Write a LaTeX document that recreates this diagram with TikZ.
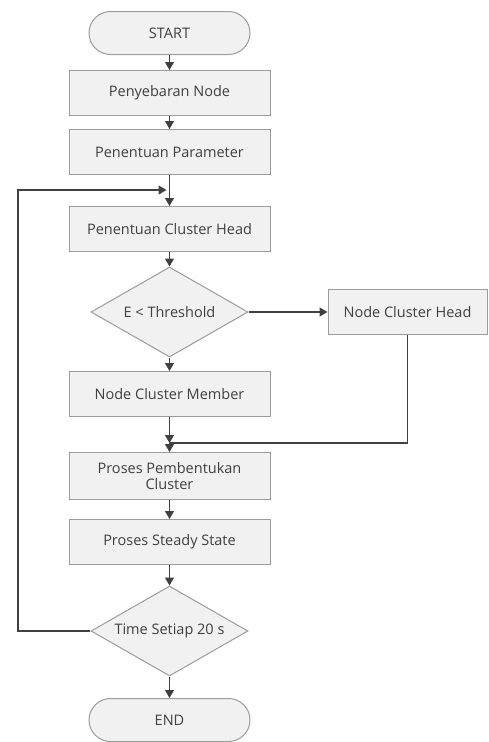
\documentclass[tikz,border=0pt]{standalone}
\usepackage{fontspec}
\setmainfont{Open Sans}
\usetikzlibrary{shapes.geometric,shapes.misc,arrows.meta}

\definecolor{boxline}{HTML}{9C9C9C}
\definecolor{boxfill}{HTML}{F1F1F1}
\definecolor{ink}{HTML}{404040}

\tikzset{
  base/.style={draw=boxline, line width=1pt, fill=boxfill, text=ink,
    font=\fontsize{14.5}{16}\selectfont, align=center, inner sep=0pt},
  proc/.style={base, rectangle, minimum width=201pt, minimum height=45pt},
  term/.style={base, rounded rectangle, minimum width=161pt, minimum height=43pt},
  decide/.style={base, diamond, aspect=1.74, minimum width=157pt, minimum height=90pt},
  arr/.style={draw=ink, line width=1.3pt, -{Triangle[length=8pt,width=9pt]}},
  line/.style={draw=ink, line width=1.3pt}
}

\begin{document}
\begin{tikzpicture}[x=1pt,y=1pt]
				\useasboundingbox (0,0) rectangle (489,-742);
				
				\node[term] (start) at (169.5,-33) {START};
				\node[proc] (spread) at (169.5,-93) {Penyebaran Node};
				\node[proc] (param) at (169.5,-152) {Penentuan Parameter};
				\node[proc] (chsel) at (169.5,-229) {Penentuan Cluster Head};
				\node[decide] (echeck) at (169.5,-312) {E < Threshold};
				\node[proc, minimum width=159pt] (chnode) at (407.5,-312) {Node Cluster Head};
				\node[proc] (cmnode) at (169.5,-394) {Node Cluster Member};
				\node[proc, minimum height=47pt] (form) at (169.5,-476) {Proses Pembentukan\\Cluster};
				\node[proc] (steady) at (169.5,-542) {Proses Steady State};
				\node[decide] (tcheck) at (169.5,-631) {Time Setiap 20 s};
				\node[term] (stop) at (169.5,-720) {END};
				
				\coordinate (join) at (169.5,-190);
				\coordinate (merge) at (169.5,-443);
				\coordinate (loopbot) at (18,-631);
				\coordinate (looptop) at (18,-190);
				
				\draw[arr] (start) -- (spread);
				\draw[arr] (spread) -- (param);
				\draw[arr] (param) -- (chsel);
				\draw[arr] (chsel) -- (echeck);
				\draw[arr] (echeck) -- (chnode);
				\draw[arr] (echeck) -- (cmnode);
				\draw[arr] (cmnode) -- (merge);
				\draw[line] (chnode) |- (merge);
				\draw[arr] (merge) -- (form);
				\draw[arr] (form) -- (steady);
				\draw[arr] (steady) -- (tcheck);
				\draw[arr] (tcheck) -- (stop);
				
				% loop back
				\draw[arr, shorten >=3pt] (tcheck) -- (loopbot) -- (looptop) -- (join);
\end{tikzpicture}
\end{document}
